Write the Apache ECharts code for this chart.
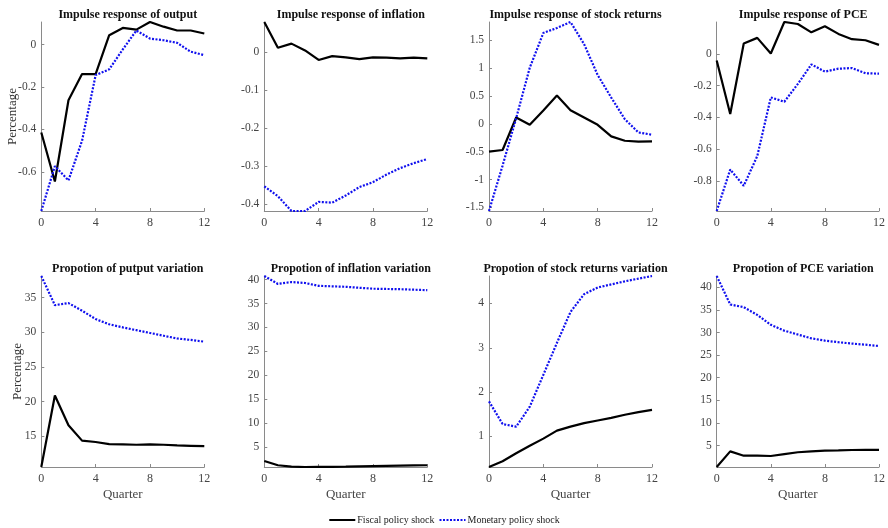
<!DOCTYPE html>
<html>
<head>
<meta charset="utf-8">
<script src="https://cdn.jsdelivr.net/npm/echarts@6/dist/echarts.min.js"></script>
<style>html,body{margin:0;padding:0;background:#fff}#c{width:888px;height:528px}</style>
</head>
<body>
<div id="c"></div>
<script>
const quarters = [0,1,2,3,4,5,6,7,8,9,10,11,12];
const xTicks = [0,4,8,12];
const titles = [
  'Impulse response of output','Impulse response of inflation','Impulse response of stock returns','Impulse response of PCE',
  'Propotion of putput variation','Propotion of inflation variation','Propotion of stock returns variation','Propotion of PCE variation'
];
const seriesNames = ['Fiscal policy shock','Monetary policy shock'];
const yTickOutput = [-0.6,-0.4,-0.2,0];
const yTickInflation = [-0.4,-0.3,-0.2,-0.1,0];
const yTickStock = [-1.5,-1,-0.5,0,0.5,1,1.5];
const yTickPCE = [-0.8,-0.6,-0.4,-0.2,0];
const yTickOutputVar = [15,20,25,30,35];
const yTickInflationVar = [5,10,15,20,25,30,35,40];
const yTickStockVar = [1,2,3,4];
const yTickPCEVar = [5,10,15,20,25,30,35,40];
const yTicks = [yTickOutput,yTickInflation,yTickStock,yTickPCE,yTickOutputVar,yTickInflationVar,yTickStockVar,yTickPCEVar];

const fiscalOutput = [-0.414,-0.645,-0.2625,-0.139,-0.139,0.044,0.078,0.07,0.106,0.084,0.066,0.066,0.052];
const monetaryOutput = [-0.784,-0.573,-0.64,-0.453,-0.144,-0.117,-0.023,0.066,0.028,0.02,0.008,-0.034,-0.05];
const fiscalInflation = [0.079,0.011,0.022,0.004,-0.021,-0.011,-0.014,-0.019,-0.014,-0.015,-0.017,-0.015,-0.017];
const monetaryInflation = [-0.354,-0.38,-0.419,-0.419,-0.395,-0.397,-0.378,-0.356,-0.343,-0.323,-0.306,-0.293,-0.282];
const fiscalStock = [-0.5,-0.47,0.113,-0.018,0.24,0.506,0.244,0.113,-0.018,-0.226,-0.304,-0.32,-0.315];
const monetaryStock = [-1.565,-0.75,0.1,1.006,1.63,1.72,1.827,1.43,0.875,0.47,0.083,-0.155,-0.196];
const fiscalPCE = [-0.042,-0.379,0.065,0.1,0.002,0.2,0.1875,0.135,0.173,0.125,0.092,0.085,0.056];
const monetaryPCE = [-0.99,-0.729,-0.831,-0.644,-0.275,-0.302,-0.19,-0.067,-0.1125,-0.094,-0.09,-0.123,-0.125];
const fiscalOutputVar = [10.6,20.9,16.6,14.4,14.2,13.9,13.85,13.8,13.85,13.8,13.7,13.65,13.6];
const monetaryOutputVar = [38.1,33.9,34.2,33.1,31.9,31.15,30.7,30.3,29.9,29.5,29.1,28.9,28.65];
const fiscalInflationVar = [2.1,1.2,0.9,0.83,0.85,0.87,0.9,0.95,1.0,1.05,1.1,1.15,1.2];
const monetaryInflationVar = [40.76,39.1,39.5,39.3,38.7,38.6,38.5,38.3,38.1,38.05,38.0,37.9,37.8];
const fiscalStockVar = [0.31,0.44,0.62,0.79,0.95,1.13,1.22,1.3,1.36,1.42,1.49,1.55,1.6];
const monetaryStockVar = [1.79,1.28,1.22,1.67,2.39,3.11,3.81,4.21,4.36,4.43,4.5,4.56,4.62];
const fiscalPCEVar = [0.24,3.7,2.74,2.74,2.67,3.1,3.5,3.7,3.85,3.9,4.0,4.05,4.05];
const monetaryPCEVar = [42.5,36.2,35.6,33.9,31.7,30.4,29.55,28.7,28.2,27.85,27.55,27.3,27.0];

const fiscal = [fiscalOutput,fiscalInflation,fiscalStock,fiscalPCE,fiscalOutputVar,fiscalInflationVar,fiscalStockVar,fiscalPCEVar];
const monetary = [monetaryOutput,monetaryInflation,monetaryStock,monetaryPCE,monetaryOutputVar,monetaryInflationVar,monetaryStockVar,monetaryPCEVar];

const FONT = '"Liberation Serif", "DejaVu Serif", serif';
const lefts = [41.3, 264.3, 489, 716.7];
const W = 163;
const rows = [{top:22, h:189, nameGap:22.5}, {top:276, h:191, nameGap:17.5}];

const grids=[], xAxes=[], yAxes=[], series=[], titleArr=[];
for (let i=0;i<8;i++){
  const r = Math.floor(i/4), c = i%4;
  grids.push({left:lefts[c], top:rows[r].top, width:W, height:rows[r].h, containLabel:false});
  const all = fiscal[i].concat(monetary[i]);
  const mn = Math.min.apply(null, all), mx = Math.max.apply(null, all);
  xAxes.push({
    type:'value', gridIndex:i, min:0, max:12, interval:4,
    axisLine:{show:true, onZero:false, lineStyle:{color:'#8a8a8a', width:1}},
    axisTick:{show:true, inside:true, length:3, lineStyle:{color:'#8a8a8a'}},
    splitLine:{show:false},
    axisLabel:{color:'#444', fontFamily:FONT, fontSize:12, margin:6, customValues:xTicks},
    name: r===1 ? 'Quarter' : '', nameLocation:'middle', nameGap:21,
    nameTextStyle:{color:'#444', fontFamily:FONT, fontSize:13}
  });
  yAxes.push({
    type:'value', gridIndex:i, min:mn, max:mx,
    axisLine:{show:true, onZero:false, lineStyle:{color:'#8a8a8a', width:1}},
    axisTick:{show:true, inside:true, length:3, lineStyle:{color:'#8a8a8a'}, customValues:yTicks[i]},
    splitLine:{show:false},
    axisLabel:{color:'#444', fontFamily:FONT, fontSize:11.5, margin:5, customValues:yTicks[i]},
    name: c===0 ? 'Percentage' : '', nameLocation:'middle', nameGap:rows[r].nameGap, nameRotate:90,
    nameMoveOverlap:false,
    nameTextStyle:{color:'#333', fontFamily:FONT, fontSize:13}
  });
  series.push({
    name:seriesNames[0], type:'line', xAxisIndex:i, yAxisIndex:i, showSymbol:false, symbol:'none',
    data: quarters.map((q,j)=>[q, fiscal[i][j]]),
    lineStyle:{color:'#000', width:2.2, type:'solid'}, itemStyle:{color:'#000'}, z:3
  });
  series.push({
    name:seriesNames[1], type:'line', xAxisIndex:i, yAxisIndex:i, showSymbol:false, symbol:'none',
    data: quarters.map((q,j)=>[q, monetary[i][j]]),
    lineStyle:{color:'#1010ee', width:2.2, type:[2,1.5]}, itemStyle:{color:'#1010ee'}, z:4
  });
  titleArr.push({
    text: titles[i], left: lefts[c] + W/2, top: r===0 ? 4 : 258, textAlign:'center',
    textStyle:{fontFamily:FONT, fontWeight:'bold', fontSize:12, color:'#111'}
  });
}

const chart = echarts.init(document.getElementById('c'), null, {renderer:'canvas'});
chart.setOption({
  animation:false,
  backgroundColor:'#fff',
  title: titleArr,
  grid: grids, xAxis: xAxes, yAxis: yAxes, series: series,
  legend: {
    data: seriesNames,
    top: 510, left: 'center', itemWidth:26, itemHeight:10, itemGap:4,
    itemStyle:{opacity:0},
    textStyle:{fontFamily:FONT, fontSize:10, color:'#222', padding:[0,0,0,-3]}
  }
});
</script>
</body>
</html>
